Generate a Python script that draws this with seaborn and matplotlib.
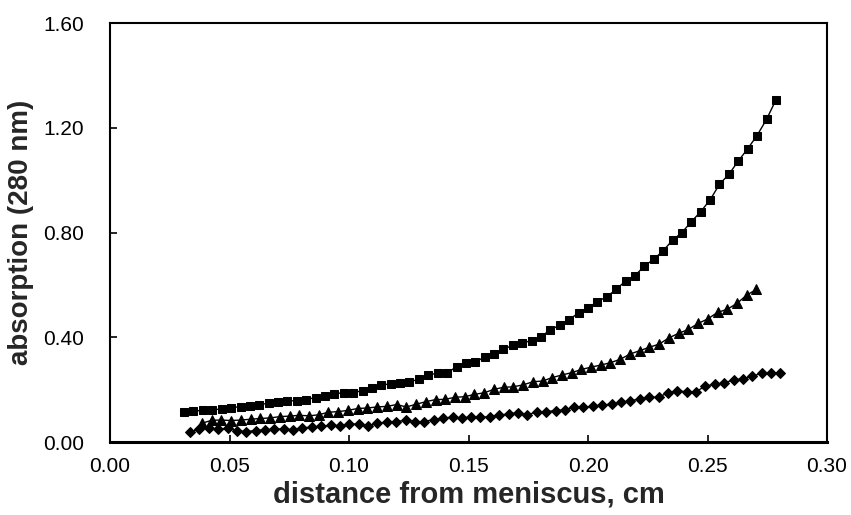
import pandas as pd
import matplotlib
matplotlib.use("Agg")
import matplotlib.pyplot as plt
import seaborn as sns

# distance from meniscus (cm) and absorption at 280 nm, three scans
x_sq = [0.0310, 0.0349, 0.0389, 0.0428, 0.0467, 0.0507, 0.0546, 0.0585, 0.0624, 0.0664,
        0.0703, 0.0742, 0.0782, 0.0821, 0.0860, 0.0900, 0.0939, 0.0978, 0.1017, 0.1057,
        0.1096, 0.1135, 0.1175, 0.1214, 0.1253, 0.1293, 0.1332, 0.1371, 0.1410, 0.1450,
        0.1489, 0.1528, 0.1568, 0.1607, 0.1646, 0.1686, 0.1725, 0.1764, 0.1803, 0.1843,
        0.1882, 0.1921, 0.1961, 0.2000, 0.2039, 0.2079, 0.2118, 0.2157, 0.2196, 0.2236,
        0.2275, 0.2314, 0.2354, 0.2393, 0.2432, 0.2472, 0.2511, 0.2550, 0.2589, 0.2629,
        0.2668, 0.2707, 0.2747, 0.2786]
y_sq = [0.113, 0.118, 0.121, 0.122, 0.127, 0.131, 0.135, 0.139, 0.143, 0.148,
        0.153, 0.157, 0.158, 0.162, 0.170, 0.176, 0.185, 0.188, 0.189, 0.196,
        0.207, 0.217, 0.223, 0.224, 0.231, 0.239, 0.256, 0.263, 0.263, 0.288,
        0.303, 0.304, 0.326, 0.338, 0.354, 0.370, 0.380, 0.386, 0.402, 0.429,
        0.446, 0.467, 0.494, 0.512, 0.536, 0.555, 0.583, 0.615, 0.635, 0.672,
        0.698, 0.730, 0.771, 0.800, 0.841, 0.880, 0.925, 0.984, 1.022, 1.073,
        1.120, 1.170, 1.232, 1.306]

x_tri = [0.0385, 0.0426, 0.0466, 0.0507, 0.0548, 0.0589, 0.0629, 0.0670, 0.0711, 0.0751,
         0.0792, 0.0833, 0.0873, 0.0914, 0.0955, 0.0996, 0.1036, 0.1077, 0.1118, 0.1158,
         0.1199, 0.1240, 0.1280, 0.1321, 0.1362, 0.1403, 0.1443, 0.1484, 0.1525, 0.1565,
         0.1606, 0.1647, 0.1687, 0.1728, 0.1769, 0.1810, 0.1850, 0.1891, 0.1932, 0.1972,
         0.2013, 0.2054, 0.2094, 0.2135, 0.2176, 0.2217, 0.2257, 0.2298, 0.2339, 0.2379,
         0.2420, 0.2461, 0.2501, 0.2542, 0.2583, 0.2624, 0.2664, 0.2705]
y_tri = [0.072, 0.083, 0.084, 0.082, 0.084, 0.087, 0.090, 0.092, 0.097, 0.099,
         0.102, 0.100, 0.104, 0.114, 0.116, 0.121, 0.128, 0.130, 0.134, 0.136,
         0.143, 0.134, 0.144, 0.154, 0.162, 0.163, 0.171, 0.173, 0.182, 0.188,
         0.201, 0.209, 0.211, 0.218, 0.230, 0.233, 0.246, 0.256, 0.265, 0.277,
         0.286, 0.294, 0.303, 0.316, 0.336, 0.349, 0.362, 0.374, 0.398, 0.415,
         0.430, 0.453, 0.470, 0.495, 0.507, 0.530, 0.561, 0.583]

x_dia = [0.0335, 0.0374, 0.0413, 0.0453, 0.0492, 0.0531, 0.0570, 0.0609, 0.0649, 0.0688,
         0.0727, 0.0766, 0.0805, 0.0845, 0.0884, 0.0923, 0.0962, 0.1001, 0.1041, 0.1080,
         0.1119, 0.1158, 0.1197, 0.1237, 0.1276, 0.1315, 0.1354, 0.1393, 0.1433, 0.1472,
         0.1511, 0.1550, 0.1589, 0.1629, 0.1668, 0.1707, 0.1746, 0.1785, 0.1825, 0.1864,
         0.1903, 0.1942, 0.1981, 0.2021, 0.2060, 0.2099, 0.2138, 0.2177, 0.2217, 0.2256,
         0.2295, 0.2334, 0.2373, 0.2413, 0.2452, 0.2491, 0.2530, 0.2569, 0.2609, 0.2648,
         0.2687, 0.2726, 0.2765, 0.2805]
y_dia = [0.039, 0.048, 0.055, 0.048, 0.052, 0.043, 0.040, 0.044, 0.047, 0.049,
         0.050, 0.047, 0.055, 0.056, 0.060, 0.064, 0.062, 0.068, 0.069, 0.062,
         0.071, 0.077, 0.078, 0.083, 0.076, 0.078, 0.086, 0.090, 0.096, 0.091,
         0.096, 0.094, 0.097, 0.103, 0.107, 0.112, 0.104, 0.115, 0.116, 0.120,
         0.123, 0.134, 0.132, 0.138, 0.141, 0.145, 0.151, 0.158, 0.164, 0.171,
         0.171, 0.188, 0.195, 0.192, 0.192, 0.214, 0.220, 0.226, 0.237, 0.241,
         0.252, 0.262, 0.262, 0.262]

xticks = [0.00, 0.05, 0.10, 0.15, 0.20, 0.25, 0.30]
yticks = [0.00, 0.40, 0.80, 1.20, 1.60]

sns.set_style("white")
plt.rcParams["font.family"] = ["Liberation Sans", "DejaVu Sans"]

fig = plt.figure(figsize=(8.51, 5.15), dpi=100)
ax = fig.add_axes([0.1293, 0.1417, 0.8425, 0.8136])

series = [
    (x_sq, y_sq, "s", 6.0),
    (x_tri, y_tri, "^", 7.5),
    (x_dia, y_dia, "D", 5.6),
]
for xs, ys, mk, ms in series:
    df = pd.DataFrame({"x": xs, "y": ys})
    sns.lineplot(data=df, x="x", y="y", ax=ax, color="black", linewidth=1.0,
                 marker=mk, markersize=ms, markeredgecolor="black",
                 markerfacecolor="black", estimator=None, sort=False)

ax.set_xlim(0, 0.30)
ax.set_ylim(0, 1.60)
ax.set_xticks(xticks)
ax.set_yticks(yticks)
ax.set_xticklabels([f"{v:.2f}" for v in xticks])
ax.set_yticklabels([f"{v:.2f}" for v in yticks])
ax.tick_params(axis="both", direction="in", length=5, width=1.2, colors="black",
               labelsize=15)
ax.tick_params(axis="x", pad=11, bottom=True)
ax.tick_params(axis="y", pad=19, left=True)

for side, sp in ax.spines.items():
    sp.set_visible(True)
    sp.set_color("black")
    sp.set_linewidth(1.5)
ax.spines["bottom"].set_linewidth(2.2)

ax.set_xlabel("distance from meniscus, cm", fontsize=21, fontweight="bold", labelpad=3)
ax.set_ylabel("absorption (280 nm)", fontsize=20, fontweight="bold", labelpad=6)

fig.savefig("out.png", dpi=100)
